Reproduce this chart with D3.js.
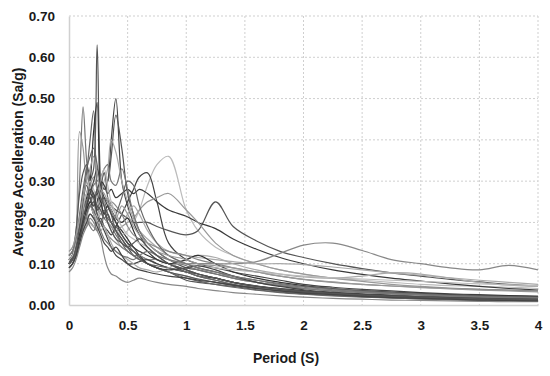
<!DOCTYPE html>
<html>
<head>
<meta charset="utf-8">
<script src="https://cdn.jsdelivr.net/npm/d3@7"></script>
<style>
  body { margin: 0; background: #fff; }
  text { font-family: "Liberation Sans", Arial, sans-serif; font-weight: bold; fill: #1a1a1a; }
</style>
</head>
<body>
<div class="svg-container"></div>
<script>
// Global Variables
const canvasWidth = 550;
const canvasHeight = 376;
const margin = { top: 16, right: 12, bottom: 71, left: 69 };

// periods (s) shared by every record
const periods = [0, 0.03, 0.06, 0.09, 0.12, 0.15, 0.18, 0.21, 0.24, 0.27,
  0.3, 0.33, 0.36, 0.4, 0.45, 0.5, 0.55, 0.6, 0.67, 0.75,
  0.85, 1.0, 1.1, 1.25, 1.4, 1.6, 1.8, 2.0,
  2.25, 2.5, 2.75, 3.0, 3.25, 3.5, 3.75, 4.0];

const xTicks = [0, 0.5, 1, 1.5, 2, 2.5, 3, 3.5, 4];
const yTicks = [0, 0.1, 0.2, 0.3, 0.4, 0.5, 0.6, 0.7];

// spectral acceleration (Sa/g) of each record
const rec01 = [0.10,0.11,0.14,0.19,0.23,0.27,0.30,0.33,0.63,0.30,
  0.24,0.22,0.20,0.18,0.16,0.14,0.12,0.11,0.10,0.09,
  0.08,0.06,0.055,0.05,0.045,0.037,0.031,0.027,
  0.023,0.02,0.017,0.015,0.013,0.011,0.01,0.009];
const rec02 = [0.11,0.12,0.15,0.19,0.22,0.24,0.26,0.22,0.25,0.30,
  0.28,0.30,0.40,0.50,0.30,0.24,0.20,0.17,0.14,0.12,
  0.10,0.08,0.07,0.065,0.055,0.046,0.04,0.035,
  0.03,0.027,0.024,0.021,0.019,0.017,0.015,0.013];
const rec03 = [0.10,0.11,0.13,0.17,0.20,0.23,0.25,0.27,0.23,0.28,
  0.32,0.30,0.36,0.46,0.38,0.27,0.22,0.18,0.15,0.13,
  0.11,0.09,0.085,0.075,0.065,0.055,0.047,0.04,
  0.035,0.031,0.028,0.025,0.022,0.02,0.018,0.016];
const rec04 = [0.12,0.13,0.18,0.30,0.48,0.35,0.28,0.26,0.24,0.22,
  0.23,0.20,0.19,0.17,0.15,0.14,0.13,0.12,0.11,0.10,
  0.09,0.08,0.07,0.06,0.05,0.042,0.036,0.031,
  0.027,0.024,0.021,0.019,0.017,0.015,0.014,0.013];
const rec05 = [0.11,0.12,0.15,0.20,0.26,0.32,0.40,0.47,0.28,0.24,
  0.25,0.22,0.20,0.19,0.17,0.15,0.13,0.12,0.10,0.09,
  0.08,0.065,0.058,0.05,0.043,0.036,0.03,0.026,
  0.022,0.019,0.017,0.015,0.013,0.012,0.011,0.01];
const rec06 = [0.10,0.11,0.14,0.18,0.22,0.26,0.30,0.42,0.49,0.26,
  0.22,0.24,0.23,0.20,0.18,0.16,0.14,0.13,0.12,0.11,
  0.10,0.085,0.075,0.065,0.055,0.045,0.038,0.033,
  0.028,0.025,0.022,0.02,0.018,0.016,0.015,0.014];
const rec07 = [0.09,0.10,0.16,0.42,0.38,0.30,0.28,0.25,0.22,0.24,
  0.21,0.20,0.18,0.16,0.14,0.13,0.12,0.11,0.10,0.09,
  0.08,0.07,0.062,0.055,0.048,0.04,0.035,0.03,
  0.027,0.024,0.022,0.02,0.018,0.017,0.016,0.015];
const rec08 = [0.12,0.13,0.16,0.20,0.22,0.25,0.27,0.26,0.24,0.27,
  0.30,0.33,0.40,0.37,0.30,0.25,0.21,0.18,0.16,0.14,
  0.12,0.10,0.09,0.08,0.065,0.055,0.047,0.04,
  0.035,0.031,0.028,0.026,0.024,0.022,0.021,0.02];
const rec09 = [0.10,0.11,0.13,0.16,0.18,0.20,0.22,0.21,0.20,0.19,
  0.21,0.20,0.19,0.18,0.17,0.18,0.20,0.23,0.29,0.34,
  0.36,0.23,0.18,0.14,0.12,0.10,0.085,0.075,
  0.065,0.06,0.055,0.05,0.047,0.045,0.043,0.04];
const rec10 = [0.10,0.11,0.14,0.18,0.20,0.22,0.24,0.22,0.20,0.21,
  0.19,0.18,0.17,0.19,0.22,0.25,0.28,0.31,0.32,0.25,
  0.15,0.11,0.10,0.09,0.08,0.07,0.06,0.05,
  0.043,0.038,0.034,0.03,0.027,0.025,0.023,0.021];
const rec11 = [0.11,0.12,0.15,0.18,0.20,0.22,0.24,0.25,0.23,0.24,
  0.26,0.25,0.24,0.23,0.22,0.21,0.20,0.20,0.20,0.19,
  0.18,0.17,0.18,0.25,0.19,0.155,0.13,0.115,
  0.10,0.088,0.078,0.07,0.062,0.056,0.05,0.046];
const rec12 = [0.10,0.12,0.15,0.18,0.22,0.25,0.27,0.26,0.28,0.30,
  0.29,0.27,0.28,0.26,0.27,0.28,0.27,0.28,0.27,0.25,
  0.23,0.215,0.20,0.185,0.16,0.135,0.115,0.10,
  0.085,0.074,0.065,0.058,0.051,0.045,0.04,0.036];
const rec13 = [0.10,0.11,0.13,0.16,0.18,0.19,0.20,0.19,0.18,0.20,
  0.19,0.17,0.16,0.15,0.14,0.13,0.12,0.12,0.11,0.11,
  0.10,0.10,0.10,0.10,0.10,0.105,0.125,0.145,
  0.15,0.132,0.11,0.10,0.09,0.085,0.096,0.085];
const rec14 = [0.11,0.12,0.14,0.17,0.19,0.21,0.22,0.21,0.20,0.22,
  0.21,0.20,0.19,0.18,0.19,0.20,0.21,0.23,0.25,0.26,
  0.27,0.23,0.20,0.15,0.12,0.10,0.085,0.075,
  0.065,0.057,0.05,0.045,0.041,0.038,0.036,0.034];
const rec15 = [0.10,0.11,0.13,0.17,0.21,0.24,0.28,0.27,0.22,0.20,
  0.18,0.16,0.14,0.12,0.11,0.10,0.10,0.105,0.11,0.10,
  0.09,0.08,0.075,0.065,0.055,0.045,0.038,0.032,
  0.027,0.023,0.02,0.018,0.016,0.015,0.014,0.013];
const rec16 = [0.08,0.09,0.11,0.14,0.17,0.19,0.21,0.20,0.18,0.16,
  0.12,0.09,0.075,0.07,0.06,0.055,0.06,0.065,0.06,0.055,
  0.05,0.045,0.04,0.035,0.03,0.026,0.022,0.019,
  0.016,0.014,0.012,0.011,0.01,0.009,0.008,0.008];
const rec17 = [0.12,0.13,0.16,0.22,0.28,0.33,0.36,0.38,0.34,0.30,
  0.32,0.26,0.22,0.18,0.15,0.13,0.12,0.11,0.10,0.095,
  0.09,0.08,0.07,0.06,0.05,0.042,0.035,0.03,
  0.026,0.022,0.019,0.017,0.015,0.014,0.013,0.012];
const rec18 = [0.11,0.12,0.14,0.18,0.22,0.25,0.27,0.29,0.30,0.31,
  0.33,0.34,0.30,0.29,0.33,0.28,0.22,0.18,0.15,0.13,
  0.11,0.095,0.085,0.075,0.065,0.055,0.047,0.04,
  0.034,0.03,0.027,0.024,0.022,0.02,0.018,0.017];
const rec19 = [0.13,0.14,0.17,0.20,0.24,0.22,0.20,0.19,0.21,0.23,
  0.25,0.26,0.24,0.22,0.20,0.22,0.24,0.22,0.18,0.15,
  0.13,0.12,0.115,0.11,0.105,0.10,0.10,0.098,
  0.092,0.085,0.078,0.072,0.066,0.06,0.055,0.05];
const rec20 = [0.09,0.10,0.12,0.15,0.18,0.21,0.24,0.22,0.20,0.18,
  0.19,0.17,0.15,0.13,0.12,0.11,0.10,0.09,0.085,0.08,
  0.09,0.11,0.12,0.115,0.10,0.085,0.075,0.068,
  0.065,0.07,0.078,0.075,0.065,0.055,0.048,0.045];
const rec21 = [0.10,0.12,0.18,0.27,0.32,0.34,0.30,0.26,0.24,0.23,
  0.21,0.22,0.20,0.18,0.16,0.14,0.13,0.115,0.10,0.09,
  0.08,0.07,0.063,0.055,0.048,0.04,0.034,0.03,
  0.026,0.023,0.021,0.019,0.018,0.017,0.016,0.015];
const rec22 = [0.11,0.12,0.14,0.17,0.20,0.23,0.25,0.24,0.27,0.25,
  0.22,0.24,0.23,0.21,0.20,0.21,0.18,0.15,0.13,0.11,
  0.10,0.11,0.12,0.10,0.08,0.065,0.055,0.047,
  0.04,0.035,0.031,0.028,0.025,0.023,0.022,0.021];
const rec23 = [0.12,0.13,0.15,0.19,0.23,0.27,0.29,0.31,0.28,0.26,
  0.24,0.23,0.25,0.24,0.22,0.19,0.17,0.16,0.15,0.14,
  0.13,0.12,0.11,0.10,0.09,0.08,0.07,0.062,
  0.055,0.05,0.046,0.043,0.04,0.038,0.036,0.034];
const rec24 = [0.10,0.11,0.13,0.16,0.19,0.22,0.24,0.23,0.21,0.20,
  0.22,0.21,0.20,0.22,0.26,0.30,0.29,0.24,0.19,0.15,
  0.12,0.10,0.09,0.08,0.07,0.06,0.052,0.045,
  0.039,0.034,0.03,0.027,0.024,0.022,0.02,0.019];
const rec25 = [0.11,0.12,0.15,0.20,0.24,0.27,0.30,0.28,0.26,0.30,
  0.33,0.29,0.25,0.22,0.19,0.17,0.16,0.15,0.14,0.12,
  0.11,0.10,0.095,0.09,0.085,0.08,0.075,0.07,
  0.066,0.063,0.06,0.057,0.054,0.051,0.049,0.047];
const rec26 = [0.09,0.10,0.12,0.16,0.20,0.24,0.27,0.30,0.33,0.29,
  0.26,0.24,0.22,0.20,0.17,0.15,0.14,0.12,0.10,0.09,
  0.085,0.09,0.095,0.085,0.07,0.055,0.045,0.037,
  0.031,0.026,0.023,0.02,0.018,0.016,0.015,0.014];
const rec27 = [0.12,0.13,0.16,0.19,0.22,0.21,0.19,0.18,0.20,0.18,
  0.16,0.15,0.14,0.13,0.12,0.115,0.11,0.12,0.13,0.12,
  0.11,0.10,0.09,0.08,0.07,0.06,0.05,0.043,
  0.037,0.032,0.028,0.025,0.022,0.02,0.018,0.017];
const rec28 = [0.10,0.11,0.14,0.19,0.25,0.29,0.26,0.24,0.28,0.26,
  0.24,0.20,0.18,0.16,0.15,0.14,0.15,0.16,0.14,0.12,
  0.10,0.085,0.075,0.065,0.055,0.046,0.039,0.033,
  0.028,0.024,0.021,0.019,0.017,0.015,0.014,0.013];
const rec29 = [0.13,0.14,0.17,0.21,0.26,0.30,0.33,0.36,0.32,0.28,
  0.27,0.25,0.23,0.21,0.24,0.22,0.19,0.17,0.15,0.13,
  0.12,0.11,0.10,0.095,0.09,0.08,0.07,0.062,
  0.056,0.05,0.046,0.042,0.039,0.036,0.034,0.032];
const rec30 = [0.09,0.10,0.12,0.15,0.18,0.20,0.22,0.21,0.19,0.17,
  0.15,0.14,0.13,0.14,0.12,0.10,0.09,0.085,0.08,0.075,
  0.07,0.065,0.06,0.055,0.048,0.04,0.034,0.029,
  0.025,0.021,0.018,0.016,0.014,0.012,0.011,0.01];

const records = [rec01, rec02, rec03, rec04, rec05, rec06, rec07, rec08, rec09, rec10,
  rec11, rec12, rec13, rec14, rec15, rec16, rec17, rec18, rec19, rec20,
  rec21, rec22, rec23, rec24, rec25, rec26, rec27, rec28, rec29, rec30];
const greys = ["#555", "#444", "#555", "#777", "#666", "#333", "#999", "#aaa", "#bbb", "#444",
  "#555", "#3a3a3a", "#888", "#999", "#444", "#888", "#666", "#777", "#aaa", "#aaa",
  "#555", "#333", "#888", "#666", "#bbb", "#444", "#777", "#555", "#999", "#444"];

const w = canvasWidth - margin.left - margin.right;
const h = canvasHeight - margin.top - margin.bottom;

const svg = d3.select(".svg-container")
  .append("svg")
  .attr("width", canvasWidth)
  .attr("height", canvasHeight);

const g = svg.append("g").attr("transform", `translate(${margin.left},${margin.top})`);

// Scales X - Y
const xScale = d3.scaleLinear().domain([0, 4]).range([0, w]);
const yScale = d3.scaleLinear().domain([0, 0.7]).range([h, 0]);

// grid
g.append("g").selectAll("line")
  .data(xTicks.slice(1))
  .enter().append("line")
  .attr("x1", d => xScale(d)).attr("x2", d => xScale(d))
  .attr("y1", 0).attr("y2", h)
  .attr("stroke", "#cfcfcf").attr("stroke-dasharray", "2,2");
g.append("g").selectAll("line")
  .data(yTicks.slice(1))
  .enter().append("line")
  .attr("x1", 0).attr("x2", w)
  .attr("y1", d => yScale(d)).attr("y2", d => yScale(d))
  .attr("stroke", "#cfcfcf").attr("stroke-dasharray", "2,2");

// axes
const xAxis = d3.axisBottom(xScale).tickValues(xTicks).tickSize(0).tickPadding(15)
  .tickFormat(d => String(d));
const yAxis = d3.axisLeft(yScale).tickValues(yTicks).tickSize(0).tickPadding(14)
  .tickFormat(d3.format(".2f"));

const gx = g.append("g").attr("transform", `translate(0,${h})`).call(xAxis);
const gy = g.append("g").call(yAxis);
[gx, gy].forEach(a => {
  a.select(".domain").attr("stroke", "#d0d0d0").attr("stroke-width", 1.5);
  a.selectAll("text").style("font-size", "13.5px").style("font-family", null);
});

// lines
const line = d3.line()
  .x((d, i) => xScale(periods[i]))
  .y(d => yScale(d))
  .curve(d3.curveCatmullRom.alpha(0.5));

g.append("g")
  .selectAll("path")
  .data(records)
  .enter()
  .append("path")
  .attr("d", line)
  .attr("fill", "none")
  .attr("stroke", (d, i) => greys[i])
  .attr("stroke-width", 1.2);

// titles
svg.append("text")
  .attr("x", 286)
  .attr("y", 363)
  .attr("text-anchor", "middle")
  .style("font-size", "14px")
  .text("Period (S)");

svg.append("text")
  .attr("transform", "translate(23,162) rotate(-90)")
  .attr("text-anchor", "middle")
  .style("font-size", "14px")
  .text("Average Accelleration (Sa/g)");
</script>
</body>
</html>
